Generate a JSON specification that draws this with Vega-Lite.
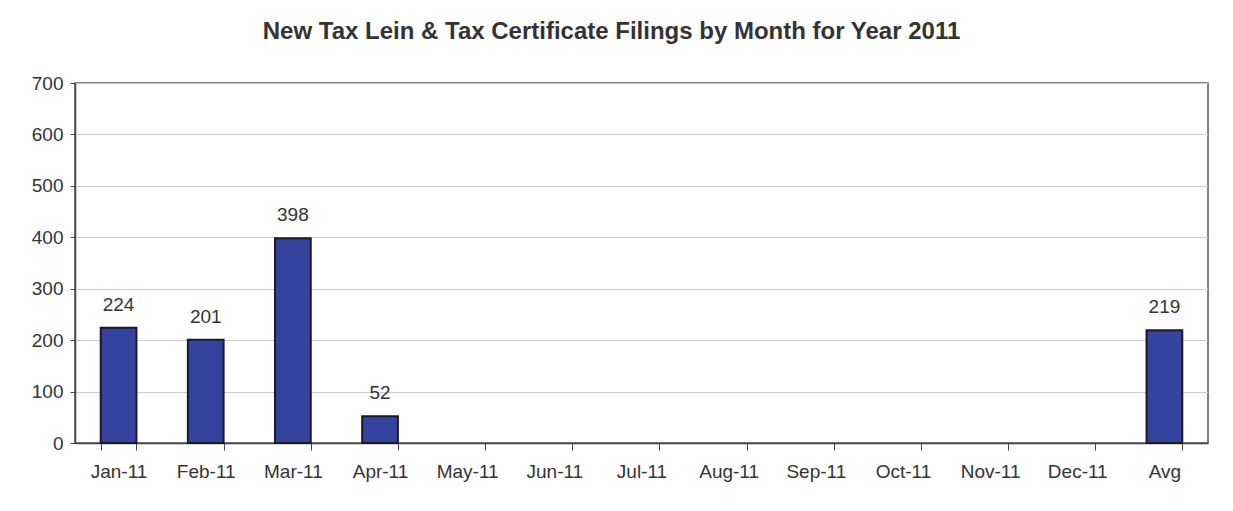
{
  "$schema": "https://vega.github.io/schema/vega-lite/v6.json",
  "width": 1133,
  "height": 360,
  "autosize": {"type": "none"},
  "padding": {"left": 75, "top": 83, "right": 25, "bottom": 68},
  "background": "white",
  "title": {
    "text": "New Tax Lein & Tax Certificate Filings by Month for Year 2011",
    "font": "Liberation Sans",
    "fontSize": 24,
    "fontWeight": "bold",
    "color": "#333333",
    "anchor": "middle",
    "dx": -30,
    "offset": 30
  },
  "data": {
    "values": [
      {"month": "Jan-11", "count": 224},
      {"month": "Feb-11", "count": 201},
      {"month": "Mar-11", "count": 398},
      {"month": "Apr-11", "count": 52},
      {"month": "May-11", "count": null},
      {"month": "Jun-11", "count": null},
      {"month": "Jul-11", "count": null},
      {"month": "Aug-11", "count": null},
      {"month": "Sep-11", "count": null},
      {"month": "Oct-11", "count": null},
      {"month": "Nov-11", "count": null},
      {"month": "Dec-11", "count": null},
      {"month": "Avg", "count": 219}
    ]
  },
  "config": {
    "view": {"stroke": "#555555", "strokeWidth": 1.5},
    "font": "Liberation Sans"
  },
  "encoding": {
    "x": {
      "field": "month",
      "type": "nominal",
      "sort": null,
      "title": null,
      "scale": {
        "domain": ["Jan-11", "Feb-11", "Mar-11", "Apr-11", "May-11", "Jun-11", "Jul-11", "Aug-11", "Sep-11", "Oct-11", "Nov-11", "Dec-11", "Avg"],
        "paddingInner": 0.59,
        "paddingOuter": 0.295
      },
      "axis": {
        "labelAngle": 0,
        "labelFont": "Liberation Sans",
        "labelFontSize": 19,
        "labelColor": "#333333",
        "labelPadding": 12,
        "tickBand": "extent",
        "tickSize": 7,
        "tickColor": "#444444",
        "domainColor": "#444444",
        "domainWidth": 1.5,
        "grid": false
      }
    },
    "y": {
      "field": "count",
      "type": "quantitative",
      "title": null,
      "scale": {"domain": [0, 700], "nice": false},
      "axis": {
        "values": [0, 100, 200, 300, 400, 500, 600, 700],
        "labelFont": "Liberation Sans",
        "labelFontSize": 19,
        "labelColor": "#333333",
        "labelPadding": 7,
        "tickSize": 5,
        "tickColor": "#444444",
        "domainColor": "#444444",
        "domainWidth": 1.5,
        "gridColor": "#cccccc",
        "gridWidth": 1
      }
    }
  },
  "layer": [
    {
      "mark": {"type": "bar", "color": "#36439e", "stroke": "#1a1a2a", "strokeWidth": 2}
    },
    {
      "transform": [{"filter": "datum.count != null"}],
      "mark": {"type": "text", "baseline": "alphabetic", "dy": -17, "fontSize": 19, "color": "#333333", "font": "Liberation Sans"},
      "encoding": {"text": {"field": "count", "type": "quantitative"}}
    }
  ]
}
